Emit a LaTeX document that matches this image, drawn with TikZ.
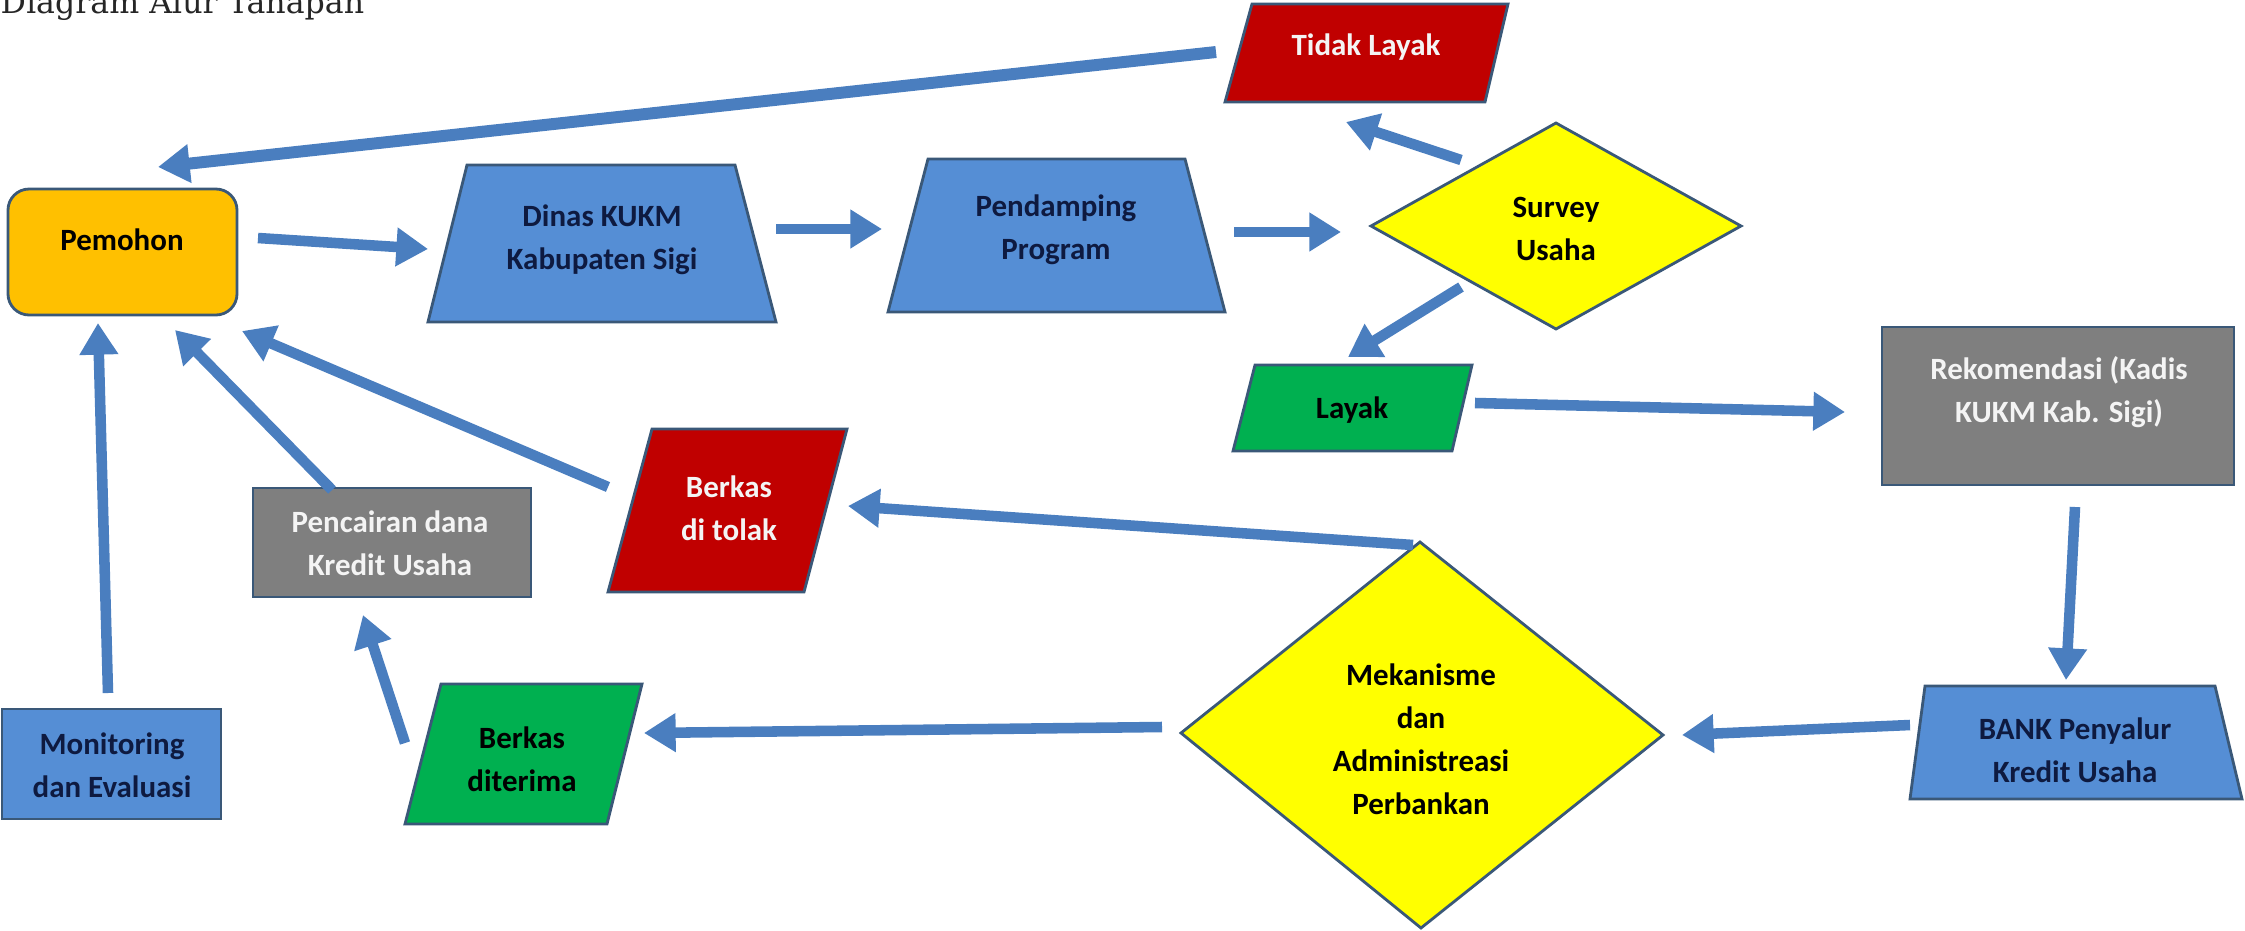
\documentclass[tikz,border=0pt]{standalone}
\usepackage{fontspec}
\setmainfont{Carlito}
\newfontfamily\titlefont{DejaVu Serif}
\usetikzlibrary{arrows.meta}
\definecolor{arrowc}{HTML}{4A7EBF}
\definecolor{bluef}{HTML}{558ED5}
\definecolor{outl}{HTML}{3A5878}
\definecolor{redf}{HTML}{C00000}
\definecolor{greenf}{HTML}{00B050}
\definecolor{greyf}{HTML}{7F7F7F}
\definecolor{yellowf}{HTML}{FFFF00}
\definecolor{orangef}{HTML}{FFC000}
\definecolor{navytxt}{HTML}{0E1A40}
\definecolor{whitetxt}{HTML}{F4F4F4}
\begin{document}
\begin{tikzpicture}[x=0.01cm,y=-0.01cm,
  bx/.style={draw=outl, line width=0.8pt, line join=miter},
  lbl/.style={font=\bfseries\fontsize{8.8}{12.2}\selectfont, align=center, inner sep=0pt},
  arr/.style={draw=arrowc, line width=3pt, -{Triangle[length=9pt,width=10.5pt]}}]
\useasboundingbox (0,0) rectangle (2245,930);
\clip (0,0) rectangle (2245,930);

% title
\node[anchor=base west, inner sep=0pt, text=black!85,
      font=\titlefont\fontsize{9}{11}\selectfont] (title) at (0,13) {Diagram Alur Tahapan};

% Pemohon
\draw[bx, fill=orangef, rounded corners=6pt] (8,189) rectangle (237,315);
\node[lbl, text=black] (pemohon) at (122,240) {Pemohon};

% Dinas KUKM
\draw[bx, fill=bluef] (467,165) -- (735,165) -- (776,322) -- (428,322) -- cycle;
\node[lbl, text=navytxt] (dinas) at (602,240) {Dinas KUKM\\Kabupaten Sigi};

% Pendamping Program
\draw[bx, fill=bluef] (928,159) -- (1185,159) -- (1225,312) -- (888,312) -- cycle;
\node[lbl, text=navytxt] (pendamping) at (1056,230) {Pendamping\\Program};

% Tidak Layak
\draw[bx, fill=redf] (1252,4) -- (1508,4) -- (1485,102) -- (1225,102) -- cycle;
\node[lbl, text=whitetxt] (tidak) at (1366,47) {Tidak Layak};

% Survey Usaha
\draw[bx, fill=yellowf] (1556,123) -- (1741,226) -- (1556,329) -- (1371,226) -- cycle;
\node[lbl, text=black] (survey) at (1556,229) {Survey\\Usaha};

% Layak
\draw[bx, fill=greenf] (1255,365) -- (1472,365) -- (1452,451) -- (1233,451) -- cycle;
\node[lbl, text=black] (layak) at (1352,410) {Layak};

% Rekomendasi
\draw[bx, fill=greyf] (1882,327) rectangle (2234,485);
\node[lbl, text=whitetxt] (rekom) at (2059,392) {Rekomendasi (Kadis\\KUKM Kab. Sigi)};

% BANK Penyalur
\draw[bx, fill=bluef] (1925,686) -- (2215,686) -- (2242,799) -- (1910,799) -- cycle;
\node[lbl, text=navytxt] (bank) at (2075,750) {BANK Penyalur\\Kredit Usaha};

% Mekanisme
\draw[bx, fill=yellowf] (1420,542) -- (1663,735) -- (1421,928) -- (1181,733) -- cycle;
\node[lbl, text=black] (mek) at (1421,739)
  {Mekanisme\\dan\\Administreasi\\Perbankan};

% Berkas di tolak
\draw[bx, fill=redf] (652,429) -- (847,429) -- (804,592) -- (608,592) -- cycle;
\node[lbl, text=whitetxt] (tolak) at (729,508) {Berkas\\di tolak};

% Pencairan dana
\draw[bx, fill=greyf] (253,488) rectangle (531,597);
\node[lbl, text=whitetxt] (pencairan) at (390,543) {Pencairan dana\\Kredit Usaha};

% Berkas diterima
\draw[bx, fill=greenf] (441,684) -- (642,684) -- (607,824) -- (405,824) -- cycle;
\node[lbl, text=black] (diterima) at (522,759) {Berkas\\diterima};

% Monitoring
\draw[bx, fill=bluef] (2,709) rectangle (221,819);
\node[lbl, text=navytxt] (monitoring) at (112,765) {Monitoring\\dan Evaluasi};

% connector end points
\coordinate (tidakOut) at (1216,52);   \coordinate (pemohonInTop) at (158,167);
\coordinate (pemohonOut) at (258,238); \coordinate (dinasIn) at (428,249);
\coordinate (dinasOut) at (776,229);   \coordinate (pendIn) at (882,229);
\coordinate (pendOut) at (1234,232);   \coordinate (surveyIn) at (1341,232);
\coordinate (surveyOutT) at (1461,160); \coordinate (tidakIn) at (1346,122);
\coordinate (surveyOutL) at (1461,287); \coordinate (layakIn) at (1348,357);
\coordinate (layakOut) at (1475,403);  \coordinate (rekomIn) at (1845,412);
\coordinate (rekomOut) at (2075,507);  \coordinate (bankIn) at (2066,680);
\coordinate (bankOut) at (1910,725);   \coordinate (mekIn) at (1682,735);
\coordinate (mekOutL) at (1162,727);   \coordinate (diterimaIn) at (644,733);
\coordinate (mekOutT) at (1413,545);   \coordinate (tolakIn) at (848,506);
\coordinate (diterimaOut) at (405,743); \coordinate (pencairanIn) at (363,615);
\coordinate (pencairanOut) at (332,490); \coordinate (pemohonIn2) at (175,330);
\coordinate (tolakOut) at (608,487);   \coordinate (pemohonIn3) at (242,331);
\coordinate (monOut) at (108,693);     \coordinate (pemohonIn1) at (98,323);

\draw[arr, line width=3.4pt] (tidakOut) -- (pemohonInTop);
\draw[arr] (pemohonOut) -- (dinasIn);
\draw[arr] (dinasOut) -- (pendIn);
\draw[arr] (pendOut) -- (surveyIn);
\draw[arr] (surveyOutT) -- (tidakIn);
\draw[arr] (surveyOutL) -- (layakIn);
\draw[arr] (layakOut) -- (rekomIn);
\draw[arr] (rekomOut) -- (bankIn);
\draw[arr] (bankOut) -- (mekIn);
\draw[arr] (mekOutL) -- (diterimaIn);
\draw[arr] (mekOutT) -- (tolakIn);
\draw[arr] (diterimaOut) -- (pencairanIn);
\draw[arr] (pencairanOut) -- (pemohonIn2);
\draw[arr] (tolakOut) -- (pemohonIn3);
\draw[arr] (monOut) -- (pemohonIn1);
\end{tikzpicture}
\end{document}
